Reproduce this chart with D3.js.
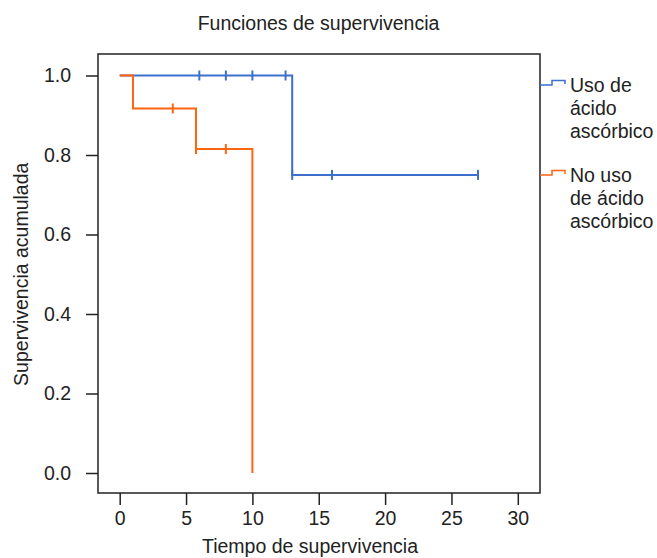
<!DOCTYPE html>
<html>
<head>
<meta charset="utf-8">
<script src="https://cdn.jsdelivr.net/npm/d3@7"></script>
<style>
  body { margin: 0; background: #fff; }
  text { font-family: "Liberation Sans", Arial, sans-serif; fill: #222; }
</style>
</head>
<body>
<div id="chart"></div>
<script>
// Survival curve steps (time, cumulative survival)
const usoTimes = [0, 13, 27];
const usoSurv = [1, 0.75, 0.75];
const noUsoTimes = [0, 1, 5.75, 10, 10];
const noUsoSurv = [1, 0.917, 0.815, 0, 0];

// Censored observations
const usoCensT = [6, 8, 10, 12.5, 13, 16, 27];
const usoCensS = [1, 1, 1, 1, 0.75, 0.75, 0.75];
const noUsoCensT = [4, 5.75, 8];
const noUsoCensS = [0.917, 0.815, 0.815];

const xTicks = [0, 5, 10, 15, 20, 25, 30];
const yTicks = [0, 0.2, 0.4, 0.6, 0.8, 1.0];
const legendLabels = [['Uso de', 'ácido', 'ascórbico'], ['No uso', 'de ácido', 'ascórbico']];
const colors = ['#3d6fcc', '#ff6410'];

const W = 657, H = 558;
const box = { left: 98, top: 54, right: 540, bottom: 493 };
const fs = '19.5px';

const x = d3.scaleLinear().domain([0, 30]).range([119.7, 517.8]);
const y = d3.scaleLinear().domain([0, 1]).range([473, 75.5]);

const svg = d3.select('#chart').append('svg')
    .attr('width', W).attr('height', H);

// Title
svg.append('text')
    .attr('x', 318.5).attr('y', 30)
    .attr('text-anchor', 'middle')
    .style('font-size', fs)
    .text('Funciones de supervivencia');

// Plot frame
svg.append('rect')
    .attr('x', box.left).attr('y', box.top)
    .attr('width', box.right - box.left).attr('height', box.bottom - box.top)
    .attr('fill', 'none').attr('stroke', '#222').attr('stroke-width', 1.5);

// Axes
const xAxis = svg.append('g')
    .attr('transform', `translate(0,${box.bottom})`)
    .call(d3.axisBottom(x).tickValues(xTicks).tickSize(12).tickPadding(6).tickFormat(d3.format('d')));
xAxis.select('.domain').remove();
xAxis.selectAll('line').attr('stroke', '#222').attr('stroke-width', 1.5);
xAxis.selectAll('text').style('font-size', fs).attr('fill', '#222');

const yAxis = svg.append('g')
    .attr('transform', `translate(${box.left},0)`)
    .call(d3.axisLeft(y).tickValues(yTicks).tickSize(12).tickPadding(15).tickFormat(d3.format('.1f')));
yAxis.select('.domain').remove();
yAxis.selectAll('line').attr('stroke', '#222').attr('stroke-width', 1.5);
yAxis.selectAll('text').style('font-size', fs).attr('fill', '#222');

// Axis labels
svg.append('text')
    .attr('x', 310).attr('y', 553)
    .attr('text-anchor', 'middle')
    .style('font-size', fs)
    .text('Tiempo de supervivencia');

svg.append('text')
    .attr('transform', `translate(28,${(y(0) + y(1)) / 2}) rotate(-90)`)
    .attr('text-anchor', 'middle')
    .style('font-size', fs)
    .text('Supervivencia acumulada');

// Curves
const line = d3.line()
    .x(d => x(d[0]))
    .y(d => y(d[1]))
    .curve(d3.curveStepAfter);

const series = [
    { pts: d3.zip(usoTimes, usoSurv), cens: d3.zip(usoCensT, usoCensS) },
    { pts: d3.zip(noUsoTimes, noUsoSurv), cens: d3.zip(noUsoCensT, noUsoCensS) }
];

series.forEach((s, i) => {
    svg.append('path')
        .attr('d', line(s.pts))
        .attr('fill', 'none')
        .attr('stroke', colors[i])
        .attr('stroke-width', 2);
    svg.selectAll(null)
        .data(s.cens)
        .join('line')
        .attr('x1', d => x(d[0])).attr('x2', d => x(d[0]))
        .attr('y1', d => y(d[1]) - 5).attr('y2', d => y(d[1]) + 5)
        .attr('stroke', colors[i])
        .attr('stroke-width', 2);
});

// Legend
const legendY = [85, 175];
legendLabels.forEach((lines, i) => {
    const g = svg.append('g').attr('transform', `translate(540,${legendY[i]})`);
    g.append('path')
        .attr('d', 'M0,0 H12 V-4.5 H25 V-1')
        .attr('fill', 'none')
        .attr('stroke', colors[i])
        .attr('stroke-width', 1.5);
    lines.forEach((t, j) => {
        g.append('text')
            .attr('x', 30).attr('y', 6.7 + j * 23.3)
            .style('font-size', fs)
            .text(t);
    });
});
</script>
</body>
</html>
